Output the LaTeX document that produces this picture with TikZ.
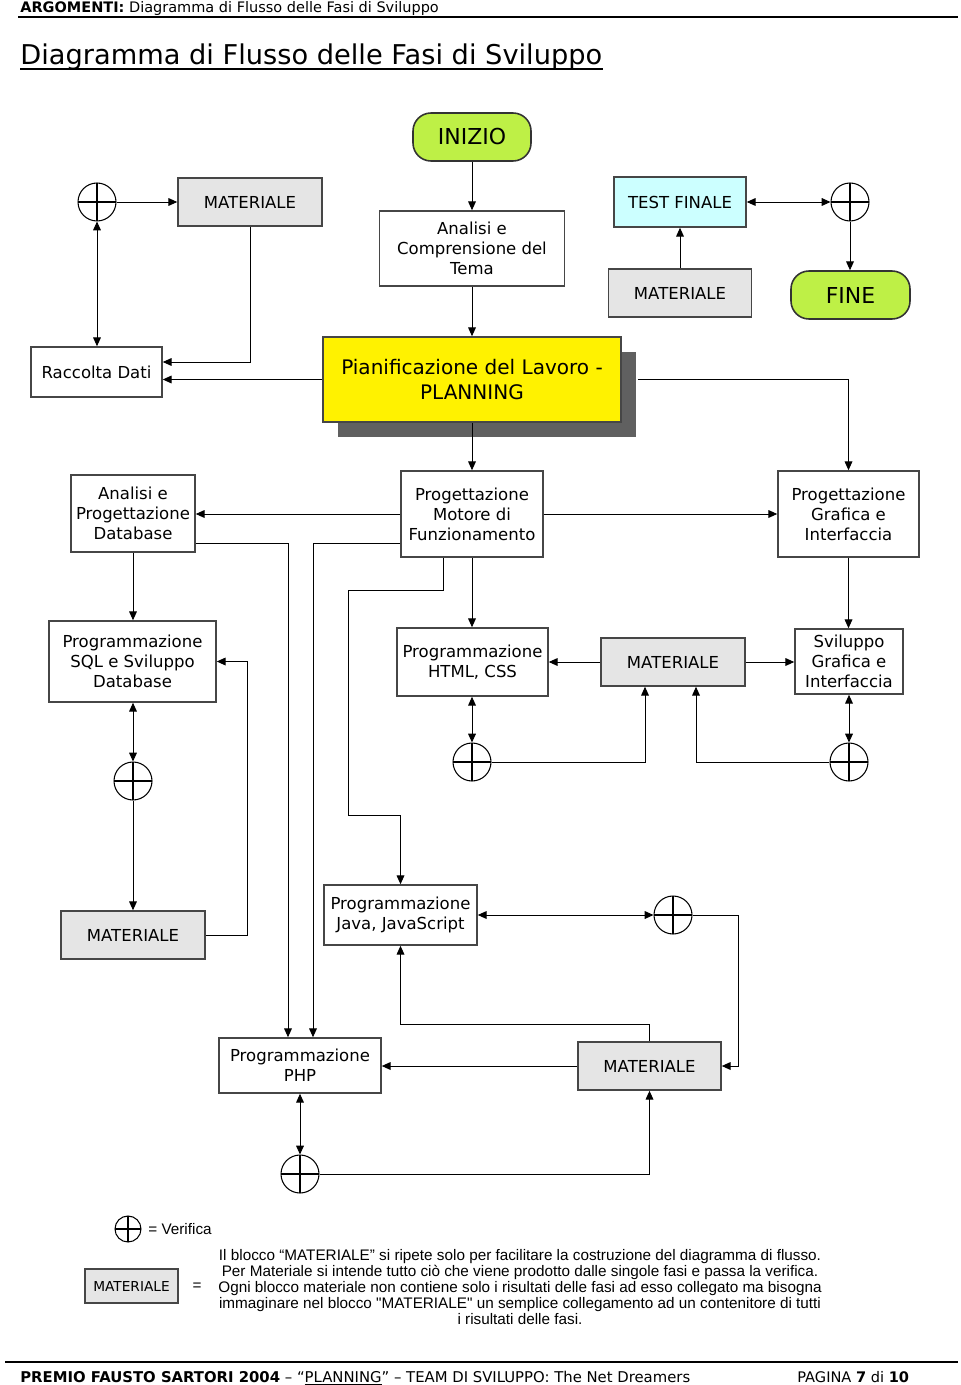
\documentclass[tikz,border=0pt]{standalone}
\usepackage{fontspec}
\setmainfont{DejaVu Sans}
\newfontfamily\notefont{Liberation Sans}
\usetikzlibrary{arrows.meta}
\usetikzlibrary{calc}
\usetikzlibrary{shadows}
\definecolor{startgreen}{RGB}{190,240,70}
\definecolor{testcyan}{RGB}{204,255,255}
\definecolor{matgray}{RGB}{229,229,229}
\definecolor{boxedge}{RGB}{70,70,70}
\definecolor{planshadow}{RGB}{96,96,96}
\newcommand{\fpx}{0.02cm}
\tikzset{
    misura/.style 2 args={minimum width=#1*\fpx,minimum height=#2*\fpx},
    fase/.style={draw=boxedge,line width=0.9pt,fill=white,align=center,inner sep=0pt,
      font=\fontsize{9.4}{11.3}\selectfont},
    materiale/.style={fase,fill=matgray},
    estremo/.style={fase,fill=startgreen,draw=black!80,rounded corners=0.36cm,
      font=\fontsize{12.5}{14}\selectfont},
    verifica/.style={circle,draw=black,line width=0.6pt,inner sep=0pt,minimum size=0.76cm,
      path picture={\draw[line width=0.6pt] (path picture bounding box.north) -- (path picture bounding box.south)
        (path picture bounding box.west) -- (path picture bounding box.east);}},
    freccia/.style={line width=0.55pt,-{Triangle[length=5pt,width=4.4pt]}},
    doppia/.style={line width=0.55pt,{Triangle[length=5pt,width=4.4pt]}-{Triangle[length=5pt,width=4.4pt]}}
}

\begin{document}
\begin{tikzpicture}[x=0.02cm,y=-0.02cm]
    \useasboundingbox (0,0) rectangle (960,1385);
    % intestazione e titolo
    \node[anchor=base west,inner sep=0pt,font=\fontsize{8.25}{10}\selectfont] (argomenti) at (20,13) {\textbf{ARGOMENTI:} Diagramma di Flusso delle Fasi di Sviluppo};
    \draw[line width=0.8pt] (18,17) -- (958,17);
    \node[anchor=base west,inner sep=0pt,font=\fontsize{15.5}{18}\selectfont] (titolo) at (20,65) {Diagramma di Flusso delle Fasi di Sviluppo};
    \draw[line width=0.7pt] ($(titolo.base west)+(0,4)$) -- ($(titolo.base east)+(0,4)$);
    % blocchi in alto
    \node[estremo,misura={118}{48}] (inizio) at (472,137) {INIZIO};
    \node[fase,misura={185}{75}] (analisi) at (472,248.5) {Analisi e\\Comprensione del\\Tema};
    \node[fase,fill=testcyan,misura={132}{50}] (test) at (680,202) {TEST FINALE};
    \node[materiale,misura={143}{48}] (matTR) at (680,293) {MATERIALE};
    \node[estremo,misura={119}{48}] (fine) at (850.5,295) {FINE};
    \node[verifica] (verTL) at (97,202) {};
    \node[materiale,misura={144}{48}] (matTL) at (250,202) {MATERIALE};
    \node[verifica] (verTR) at (850,202) {};
    \node[fase,misura={131}{50}] (raccolta) at (96.5,372) {Raccolta Dati};
    \node[fase,fill=yellow,misura={298}{85},font=\fontsize{11.4}{14}\selectfont,
      general shadow={fill=planshadow,shadow xshift=0.3cm,shadow yshift=-0.3cm}] (planning) at (472,379.5) {Pianificazione del Lavoro -\\PLANNING};
    \draw[freccia] (inizio.south) -- (analisi.north);
    \draw[freccia] (analisi.south) -- (planning.north);
    \draw[freccia] (verTL.east) -- (matTL.west);
    \draw[doppia] (verTL.south) -- (verTL.south |- raccolta.north);
    \draw[freccia] (matTL.south) |- ($(raccolta.east)+(0,-10)$);
    \draw[freccia] (planning.west) -- (planning.west -| raccolta.east);
    \draw[doppia] (test.east) -- (verTR.west);
    \draw[freccia] (verTR.south) -- (verTR.south |- fine.north);
    \draw[freccia] (matTR.north) -- (test.south);
    % seconda fila
    \node[fase,misura={124}{77}] (anDB) at (133,513.5) {Analisi e\\Progettazione\\Database};
    \node[fase,misura={142}{86}] (motore) at (472,514) {Progettazione\\Motore di\\Funzionamento};
    \node[fase,misura={141}{86}] (progGraf) at (848.5,514) {Progettazione\\Grafica e\\Interfaccia};
    \draw[freccia] (planning.south) -- (motore.north);
    \draw[freccia] ($(planning.east)+(16,0)$) -| (progGraf.north);
    \draw[freccia] (motore.west) -- (motore.west -| anDB.east);
    \draw[freccia] (motore.east) -- (progGraf.west);
    % terza fila
    \node[fase,misura={167}{81}] (sql) at (132.5,661.5) {Programmazione\\SQL e Sviluppo\\Database};
    \node[fase,misura={151}{68}] (html) at (472.5,662) {Programmazione\\HTML, CSS};
    \node[materiale,misura={144}{48}] (matMid) at (673,662) {MATERIALE};
    \node[fase,misura={108}{65}] (svGraf) at (849,661.5) {Sviluppo\\Grafica e\\Interfaccia};
    \node[verifica] (verHtml) at (472,762) {};
    \node[verifica] (verSv) at (849,762) {};
    \node[verifica] (verSql) at (133,781) {};
    \node[materiale,misura={144}{48}] (matSql) at (133,935) {MATERIALE};
    % quarta fila
    \node[fase,misura={153}{60}] (java) at (400.5,915) {Programmazione\\Java, JavaScript};
    \node[verifica] (verJava) at (673,915) {};
    \node[materiale,misura={143}{48}] (matPhp) at (649.5,1066) {MATERIALE};
    \node[fase,misura={162}{55}] (php) at (300,1065.5) {Programmazione\\PHP};
    \node[verifica] (verPhp) at (300,1174) {};
    \draw[freccia] (anDB.south) -- (anDB.south |- sql.north);
    \draw[freccia] ($(anDB.east)+(0,29.5)$) -| ($(php.north)+(-12,0)$);
    \draw[freccia] ($(motore.west)+(0,29)$) -| ($(php.north)+(13,0)$);
    \draw[freccia] ($(motore.south)+(-29,0)$) -- ++(0,33) -- ++(-95,0) -- ++(0,225) -| (java.north);
    \draw[freccia] (motore.south) -- (motore.south |- html.north);
    \draw[freccia] (progGraf.south) -- (progGraf.south |- svGraf.north);
    \draw[freccia] (matMid.west) -- (matMid.west -| html.east);
    \draw[freccia] (matMid.east) -- (matMid.east -| svGraf.west);
    \draw[doppia] (verHtml.north |- html.south) -- (verHtml.north);
    \draw[freccia] (verHtml.east) -| ($(matMid.south)+(-28,0)$);
    \draw[doppia] (verSv.north |- svGraf.south) -- (verSv.north);
    \draw[freccia] (verSv.west) -| ($(matMid.south)+(23,0)$);
    \draw[doppia] (verSql.north |- sql.south) -- (verSql.north);
    \draw[freccia] (verSql.south) -- (matSql.north);
    \draw[freccia] (matSql.east) -- ++(42,0) |- (sql.east);
    \draw[doppia] (java.east) -- (verJava.west);
    \draw[freccia] (verJava.east) -- ++(46,0) |- (matPhp.east);
    \draw[freccia] (matPhp.north) -- ++(0,-17) -| (java.south);
    \draw[freccia] (matPhp.west) -- (matPhp.west -| php.east);
    \draw[doppia] (php.south) -- (verPhp.north);
    \draw[freccia] (verPhp.east) -| (matPhp.south);
    % legenda
    \node[verifica,minimum size=0.52cm] (legVer) at (128,1229) {};
    \node[anchor=west,inner sep=0pt,font=\notefont\fontsize{8.7}{9}\selectfont] (legVerTxt) at (148,1229) {= Verifica};
    \node[materiale,misura={93}{34},font=\fontsize{7.8}{9}\selectfont] (legMat) at (131.5,1286) {MATERIALE};
    \node[inner sep=0pt,font=\notefont\fontsize{8.7}{9}\selectfont] (legUguale) at (197,1287) {=};
    \node[inner sep=0pt,align=center,font=\notefont\fontsize{8.7}{9.1}\selectfont] (nota) at (520,1287) {Il blocco “MATERIALE” si ripete solo per facilitare la costruzione del diagramma di flusso.\\Per Materiale si intende tutto ciò che viene prodotto dalle singole fasi e passa la verifica.\\Ogni blocco materiale non contiene solo i risultati delle fasi ad esso collegato ma bisogna\\immaginare nel blocco "MATERIALE" un semplice collegamento ad un contenitore di tutti\\i risultati delle fasi.};
    % pie' di pagina
    \draw[line width=1pt] (5,1362) -- (958,1362);
    \node[anchor=base west,inner sep=0pt,font=\fontsize{8.45}{10}\selectfont] (premio) at (20,1382) {\textbf{PREMIO FAUSTO SARTORI 2004} – “\underline{PLANNING}” – TEAM DI SVILUPPO: The Net Dreamers};
    \node[anchor=base west,inner sep=0pt,font=\fontsize{8.3}{10}\selectfont] (pagina) at (797,1382) {PAGINA \textbf{7} di \textbf{10}};
\end{tikzpicture}
\end{document}
